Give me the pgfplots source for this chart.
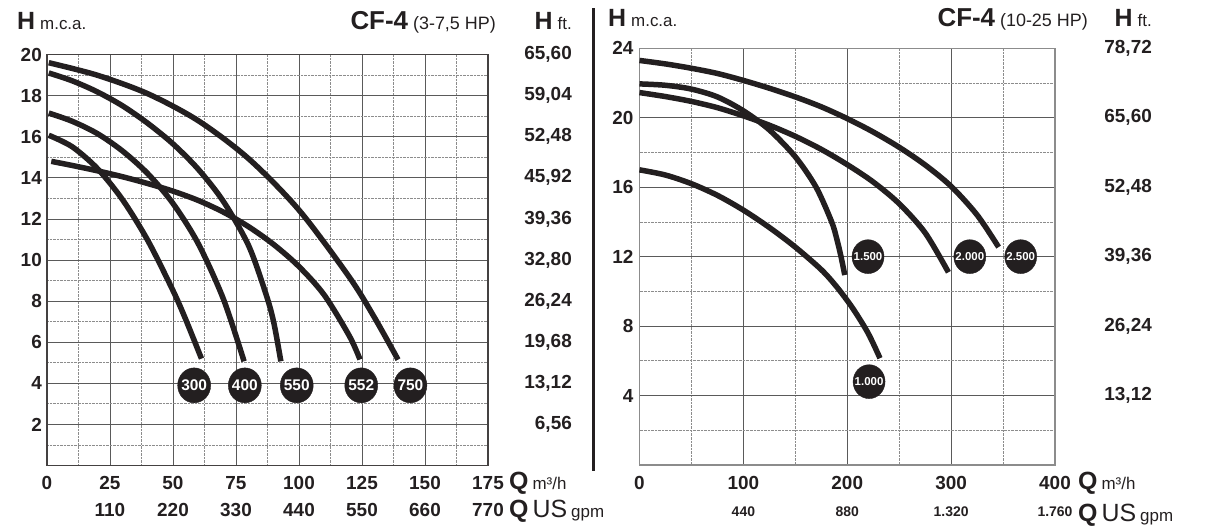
\documentclass[border=0pt]{standalone}
\usepackage{pgfplots}
\pgfplotsset{compat=1.18}
\usepackage{fontspec}
\setmainfont{Liberation Sans}
\definecolor{ink}{HTML}{231F20}
\definecolor{gridc}{HTML}{5A5A5A}
\definecolor{gridm}{HTML}{8C8C8C}
\tikzset{ftlab/.style={anchor=east, inner sep=0pt, font=\bfseries\fontsize{19}{19}\selectfont, text=ink}}

\begin{document}
\begin{tikzpicture}
\useasboundingbox (0bp,0bp) rectangle (1205bp,530bp);
\pgfplotsset{
  pumpaxis/.style={
    scale only axis, anchor=south west, grid=both, minor tick num=1,
    major tick length=0pt, minor tick length=0pt,
    major grid style={solid, gridc, line width=0.7bp},
    minor grid style={densely dotted, gridm, line width=0.7bp},
    clip=false,
    ticklabel style={font=\bfseries\fontsize{19}{27}\selectfont, text=ink},
    yticklabel style={anchor=east, inner sep=0pt, xshift=-5bp},
    xticklabel style={anchor=north, inner sep=0pt, yshift=-11bp, align=center},
  },
  curve/.style={ink, line width=5.5bp, smooth, tension=0.5},
  bubble/.style={only marks, mark=*, ink, mark options={yscale=1.06},
    nodes near coords, point meta=explicit symbolic,
    every node near coord/.append style={anchor=center, text=white, inner sep=0pt}},
}

% ---------------- left chart ----------------
\begin{axis}[pumpaxis,
  at={(47bp,64.5bp)}, width=441bp, height=411bp,
  xmin=0, xmax=175, ymin=0, ymax=20,
  axis line style={draw=ink!85, line width=1.2bp},
  xtick={0,25,...,175},
  xticklabels={0,{25\\110},{50\\220},{75\\330},{100\\440},{125\\550},{150\\660},{175\\770}},
  ytick={0,2,...,20},
  yticklabels={{},2,4,6,8,10,12,14,16,18,20},
]
% 300
\addplot[curve] coordinates {(0.7,16.07) (10,15.51) (20,14.45) (30,12.93) (40,10.95) (50,8.51) (55,7.12) (61.3,5.2)};
% 400
\addplot[curve] coordinates {(0.7,17.15) (10,16.75) (20,16.15) (30,15.3) (40,14.2) (50,12.75) (60,10.8) (70,8.1) (78.2,5.07)};
% 550
\addplot[curve] coordinates {(0.7,19.1) (10,18.72) (20,18.18) (30,17.5) (40,16.65) (50,15.65) (60,14.42) (70,12.85) (80,10.7) (87,8.3) (90,6.95) (92.8,5.07)};
% 552
\addplot[curve] coordinates {(1.7,14.8) (10,14.6) (20,14.34) (30,14.05) (40,13.72) (50,13.35) (60,12.9) (70,12.33) (80,11.62) (90,10.75) (100,9.68) (110,8.3) (120,6.3) (124.2,5.16)};
% 750
\addplot[curve] coordinates {(0.7,19.6) (20,18.99) (40,18.09) (60,16.78) (80,14.93) (100,12.43) (120,9.16) (130,7.19) (139.3,5.15)};
% bubbles
\addplot[bubble, mark size=16.5bp, every node near coord/.append style={font=\bfseries\fontsize{15.5}{15.5}\selectfont}]
  coordinates {(58.4,3.9)[300] (78.5,3.9)[400] (99.1,3.9)[550] (124.7,3.9)[552] (144.2,3.9)[750]};
% ft labels
\node[ftlab, xshift=84bp] at (axis cs:175,20) {65,60};
\node[ftlab, xshift=84bp] at (axis cs:175,18) {59,04};
\node[ftlab, xshift=84bp] at (axis cs:175,16) {52,48};
\node[ftlab, xshift=84bp] at (axis cs:175,14) {45,92};
\node[ftlab, xshift=84bp] at (axis cs:175,12) {39,36};
\node[ftlab, xshift=84bp] at (axis cs:175,10) {32,80};
\node[ftlab, xshift=84bp] at (axis cs:175,8) {26,24};
\node[ftlab, xshift=84bp] at (axis cs:175,6) {19,68};
\node[ftlab, xshift=84bp] at (axis cs:175,4) {13,12};
\node[ftlab, xshift=84bp] at (axis cs:175,2) {6,56};
\end{axis}

% ---------------- right chart ----------------
\begin{axis}[pumpaxis,
  at={(639.5bp,65bp)}, width=415.5bp, height=416.7bp,
  xmin=0, xmax=400, ymin=0, ymax=24,
  axis line style={draw=gridm, line width=1.5bp},
  xtick={0,100,...,400},
  xticklabels={0,{100\\{\fontsize{14}{27}\selectfont 440}},{200\\{\fontsize{14}{27}\selectfont 880}},{300\\{\fontsize{14}{27}\selectfont 1.320}},{400\\{\fontsize{14}{27}\selectfont 1.760}}},
  ytick={0,4,...,24},
  yticklabels={{},4,8,12,16,20,24},
  yticklabel style={xshift=-1bp},
]
% 1.000
\addplot[curve] coordinates {(0,17.0) (25,16.7) (50,16.2) (75,15.53) (100,14.68) (125,13.68) (150,12.55) (175,11.25) (190,10.25) (205,9.05) (220,7.6) (231.5,6.15)};
% 1.500
\addplot[curve] coordinates {(0,21.95) (25,21.87) (50,21.65) (75,21.2) (100,20.4) (125,19.3) (150,17.75) (170,16.0) (185,14.0) (190,13.0) (194,12.0) (197.6,10.94)};
% 2.000
\addplot[curve] coordinates {(0,21.45) (25,21.22) (50,20.94) (75,20.58) (100,20.11) (125,19.57) (150,18.93) (175,18.18) (200,17.3) (225,16.3) (250,15.05) (275,13.37) (297.4,11.1)};
% 2.500
\addplot[curve] coordinates {(0,23.3) (25,23.1) (50,22.85) (75,22.55) (100,22.15) (125,21.7) (150,21.2) (175,20.63) (200,19.95) (225,19.18) (250,18.3) (275,17.28) (300,16.05) (325,14.4) (345.7,12.55)};
% bubbles
\addplot[bubble, mark size=16bp, every node near coord/.append style={font=\bfseries\fontsize{11.5}{11.5}\selectfont}]
  coordinates {(220,12)[1.500] (318,12)[2.000] (367,12)[2.500] (221,4.8)[1.000]};
% ft labels
\node[ftlab, xshift=97bp] at (axis cs:400,24) {78,72};
\node[ftlab, xshift=97bp] at (axis cs:400,20) {65,60};
\node[ftlab, xshift=97bp] at (axis cs:400,16) {52,48};
\node[ftlab, xshift=97bp] at (axis cs:400,12) {39,36};
\node[ftlab, xshift=97bp] at (axis cs:400,8) {26,24};
\node[ftlab, xshift=97bp] at (axis cs:400,4) {13,12};
\end{axis}

% separator
\draw[ink, line width=3bp] (593bp,59bp) -- (593bp,522bp);

% titles
\node[anchor=base west, inner sep=0pt, text=ink] at (17bp,500bp)
  {{\bfseries\fontsize{25}{25}\selectfont H}\hspace{5bp}{\fontsize{17}{17}\selectfont m.c.a.}};
\node[anchor=base east, inner sep=0pt, text=ink] at (496bp,500bp)
  {{\bfseries\fontsize{26}{26}\selectfont CF-4}\hspace{5bp}{\fontsize{18}{18}\selectfont (3-7,5 HP)}};
\node[anchor=base east, inner sep=0pt, text=ink] at (572bp,500bp)
  {{\bfseries\fontsize{25}{25}\selectfont H}\hspace{5bp}{\fontsize{17}{17}\selectfont ft.}};

\node[anchor=base west, inner sep=0pt, text=ink] at (608bp,503bp)
  {{\bfseries\fontsize{25}{25}\selectfont H}\hspace{5bp}{\fontsize{17}{17}\selectfont m.c.a.}};
\node[anchor=base east, inner sep=0pt, text=ink] at (1088bp,503bp)
  {{\bfseries\fontsize{26}{26}\selectfont CF-4}\hspace{5bp}{\fontsize{18}{18}\selectfont (10-25 HP)}};
\node[anchor=base east, inner sep=0pt, text=ink] at (1152bp,503bp)
  {{\bfseries\fontsize{25}{25}\selectfont H}\hspace{5bp}{\fontsize{17}{17}\selectfont ft.}};

% x-axis titles
\node[anchor=base west, inner sep=0pt, text=ink] at (509bp,40.5bp)
  {{\bfseries\fontsize{25}{25}\selectfont Q}\hspace{4bp}{\fontsize{17}{17}\selectfont m³/h}};
\node[anchor=base west, inner sep=0pt, text=ink] at (509bp,12.5bp)
  {{\bfseries\fontsize{25}{25}\selectfont Q}\hspace{4bp}{\fontsize{25}{25}\selectfont US}\hspace{4bp}{\fontsize{17}{17}\selectfont gpm}};
\node[anchor=base west, inner sep=0pt, text=ink] at (1078bp,40.5bp)
  {{\bfseries\fontsize{25}{25}\selectfont Q}\hspace{4bp}{\fontsize{17}{17}\selectfont m³/h}};
\node[anchor=base west, inner sep=0pt, text=ink] at (1078bp,9bp)
  {{\bfseries\fontsize{25}{25}\selectfont Q}\hspace{4bp}{\fontsize{25}{25}\selectfont US}\hspace{4bp}{\fontsize{17}{17}\selectfont gpm}};
\end{tikzpicture}
\end{document}
